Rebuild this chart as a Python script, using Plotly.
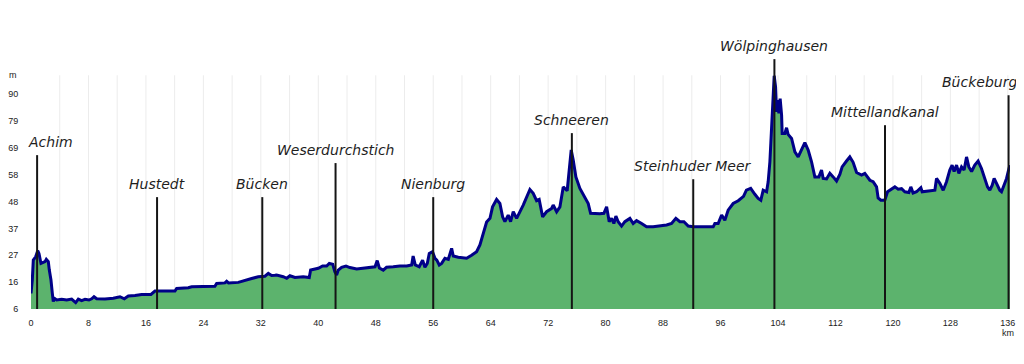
import plotly.graph_objects as go

# ---- elevation profile (km, m) ----
km = [0, 0.18, 0.32, 0.65, 0.93, 1.11, 1.39, 1.72, 1.95, 2.13, 2.41, 2.55, 2.78, 2.97, 3.1, 3.24, 3.57,
      4.27, 4.97, 5.66, 6.22, 6.59, 7.05, 7.52, 8.07, 8.45, 8.77, 9.14, 10.3, 11.46, 12.39, 12.99, 13.55,
      14.48, 15.4, 16.7, 17.26, 18.65, 20.04, 20.28, 21.9, 22.37, 25.6, 25.85, 27.0, 27.24, 27.5, 28.86,
      29.79, 30.72, 31.64, 32.57, 33.04, 33.5, 33.96, 34.2, 35.12, 35.6, 36.05, 36.75, 37.9, 38.74, 38.93,
      40.0, 40.6, 41.16, 41.53, 42.0, 42.3, 42.55, 42.78, 43.25, 43.85, 44.4, 45.34, 46.26, 47.19, 47.9,
      48.2, 48.5, 49.04, 49.5, 50.43, 51.36, 52.3, 53.0, 53.2, 53.5, 54.05, 54.52, 54.84, 55.17, 55.45,
      55.9, 56.24, 56.5, 56.84, 57.17, 57.63, 58.1, 58.56, 58.79, 59.48, 60.65, 61.34, 62.04, 62.5, 62.96,
      63.43, 63.9, 64.26, 64.82, 65.28, 65.66, 65.98, 66.44, 66.77, 67.14, 67.61, 68.53, 69.46, 69.92,
      70.39, 70.75, 71.23, 71.78, 72.48, 72.7, 73.18, 73.64, 74.1, 74.65, 74.93, 75.21, 75.49, 75.86,
      76.42, 76.97, 77.58, 77.91, 78.51, 79.2, 79.76, 80.14, 80.5, 80.83, 81.15, 81.43, 81.75, 82.22,
      82.68, 83.38, 83.84, 84.31, 85.01, 85.7, 86.62, 87.56, 88.49, 89.18, 89.78, 90.34, 90.9, 91.5,
      92.19, 93.58, 94.98, 95.21, 95.67, 96.15, 96.6, 97.06, 97.76, 98.46, 99.2, 99.6, 100.2, 100.78,
      101.24, 101.61, 101.94, 102.41, 102.63, 102.87, 103.1, 103.33, 103.47, 103.66, 103.8, 103.94,
      104.12, 104.3, 104.5, 104.58, 104.96, 105.19, 105.41, 105.89, 106.35, 106.81, 107.18, 107.74,
      108.2, 108.67, 109.13, 109.69, 110.06, 110.29, 110.76, 111.22, 111.68, 112.15, 112.61, 112.93,
      113.54, 114.0, 114.46, 114.94, 115.63, 116.09, 116.79, 117.24, 117.72, 117.94, 118.32, 118.87,
      119.25, 119.81, 120.27, 120.73, 121.2, 121.66, 122.22, 122.49, 122.81, 123.29, 123.89, 124.07,
      124.9, 125.84, 126.07, 126.53, 127.0, 127.46, 127.92, 128.24, 128.52, 128.86, 129.18, 129.55,
      129.91, 130.25, 130.57, 130.95, 131.4, 131.86, 132.33, 132.8, 133.17, 133.49, 133.81, 134.09,
      134.42, 134.88, 135.12, 135.48, 135.82, 136.04, 136.28]
elev = [12.1, 17.3, 25.1, 26.4, 28.8, 27.7, 23.8, 24.1, 24.5, 25.4, 24.5, 21.2, 17.3, 12.1, 8.9, 10.2, 9.5,
        9.8, 9.5, 9.9, 8.5, 9.9, 9.3, 9.8, 9.5, 10.0, 10.8, 10.0, 9.9, 10.2, 10.8, 10.0, 11.1,
        11.3, 11.7, 11.7, 13.0, 13.0, 13.0, 14.0, 14.3, 14.7, 14.9, 16.0, 16.2, 16.8, 16.2, 16.4,
        17.0, 17.9, 18.6, 18.8, 19.9, 19.1, 19.2, 19.3, 18.6, 18.0, 19.0, 18.3, 18.6, 18.3, 21.2,
        21.9, 22.8, 22.8, 23.8, 23.5, 20.6, 19.3, 21.2, 22.3, 22.8, 22.2, 21.6, 22.0, 22.2, 22.5,
        24.9, 22.0, 21.2, 22.3, 22.5, 22.8, 22.8, 23.2, 26.7, 23.2, 22.5, 25.1, 22.3, 23.8, 27.7,
        28.4, 25.8, 25.1, 23.2, 23.8, 25.8, 25.4, 29.7, 26.7, 26.2, 25.8, 27.0, 28.4, 31.0, 35.5,
        40.0, 41.4, 45.9, 48.8, 47.2, 42.0, 40.1, 42.7, 40.1, 44.0, 41.4, 46.6, 52.7, 51.2,
        48.3, 48.8, 42.0, 44.0, 45.3, 46.6, 44.0, 45.9, 53.7, 52.2, 60.3, 68.1, 64.2, 57.6,
        53.1, 50.5, 47.2, 43.4, 43.2, 43.2, 43.4, 45.9, 40.1, 41.4, 39.4, 42.3, 40.1, 38.4,
        40.1, 41.4, 39.4, 40.5, 39.4, 38.1, 38.1, 38.4, 38.8, 39.4, 41.4, 40.1, 40.1, 38.4,
        38.1, 38.1, 38.1, 39.4, 39.4, 42.7, 40.7, 44.6, 47.2, 48.3, 50.0, 52.4, 53.1, 50.8,
        49.2, 48.5, 52.4, 51.8, 55.7, 63.5, 75.2, 89.5, 97.1, 92.8, 83.0, 87.6,
        82.4, 88.2, 81.7, 74.6, 74.6, 76.8, 74.2, 72.6, 67.4, 65.4, 67.4, 71.0,
        68.1, 63.5, 57.6, 57.6, 60.3, 57.0, 56.8, 59.0, 57.6, 56.0, 58.6, 61.5,
        63.8, 65.4, 63.3, 59.3, 58.3, 59.0, 56.3, 55.7, 53.7, 49.4, 48.5, 48.5,
        51.8, 52.8, 53.7, 52.8, 53.0, 51.8, 51.5, 53.7, 51.3, 51.8, 53.4, 51.8,
        52.1, 52.4, 57.0, 55.1, 52.4, 55.7, 60.3, 62.2, 59.7, 62.2, 59.0, 61.5,
        60.3, 65.4, 61.5, 59.7, 62.2, 63.8, 60.9, 57.0, 53.7, 52.4, 54.3, 57.0,
        55.1, 52.4, 51.8, 54.3, 57.0, 59.6, 62.2]

# ---- waypoints ----
place_names = ["Achim", "Hustedt", "Bücken", "Weserdurchstich", "Nienburg", "Schneeren",
               "Steinhuder Meer", "Wölpinghausen", "Mittellandkanal", "Bückeburg"]
place_km = [0.85, 17.55, 32.2, 42.4, 56.0, 75.3, 92.2, 103.5, 118.9, 136.1]
place_top = [66.1, 49.7, 49.7, 63.0, 49.7, 74.7, 56.7, 103.6, 77.8, 89.5]

# ---- axis ticks ----
x_ticks = list(range(0, 137, 8))
y_tickvals = [6, 16.5, 27, 37.5, 48, 58.5, 69, 79.5, 90]
y_ticktext = ["6", "16", "27", "37", "48", "58", "69", "79", "90"]
grid_km = list(range(4, 137, 4))
grid_top = 97.3

Y_MIN, Y_MAX = 6, 106
X_MIN, X_MAX = 0, 136.3

fig = go.Figure()

fig.add_trace(go.Scatter(
    x=km, y=elev, mode="lines", fill="tozeroy",
    fillcolor="#5cb36d", line=dict(color="#000088", width=3),
    hoverinfo="skip", showlegend=False))

# waypoint marker lines
mx, my = [], []
for k, t in zip(place_km, place_top):
    mx += [k, k, None]
    my += [Y_MIN, t, None]
fig.add_trace(go.Scatter(x=mx, y=my, mode="lines",
                         line=dict(color="#151515", width=2),
                         hoverinfo="skip", showlegend=False))

shapes = []
for g in grid_km:
    shapes.append(dict(type="line", xref="x", yref="y", x0=g, x1=g, y0=Y_MIN, y1=grid_top,
                       line=dict(color="#ececec", width=1), layer="below"))

label_shift = {"Achim": 13, "Bückeburg": -29}
annotations = []
for name, k, t in zip(place_names, place_km, place_top):
    annotations.append(dict(
        x=k, y=t, xref="x", yref="y", text=name, showarrow=False,
        xanchor="center", yanchor="bottom", xshift=label_shift.get(name, 0), yshift=3,
        font=dict(family="DejaVu Sans", size=14, color="#1e1e1e", style="italic")))

annotations.append(dict(x=-0.0184, y=0.913, xref="paper", yref="paper", text="m",
                        showarrow=False, xanchor="center", yanchor="middle",
                        font=dict(family="Liberation Sans", size=9, color="#222")))
annotations.append(dict(x=0.998, y=-0.094, xref="paper", yref="paper", text="km",
                        showarrow=False, xanchor="center", yanchor="middle",
                        font=dict(family="Liberation Sans", size=9, color="#222")))

# page body has an 8px default margin, so the figure is sized to fit the window
fig.update_layout(
    width=1016, height=356,
    margin=dict(l=23, r=14, t=45, b=55, autoexpand=False),
    paper_bgcolor="white", plot_bgcolor="white",
    shapes=shapes, annotations=annotations,
    xaxis=dict(range=[X_MIN, X_MAX], tickvals=x_ticks, showgrid=False, zeroline=False,
               showline=False, ticks="outside", ticklen=5, tickcolor="rgba(0,0,0,0)",
               automargin=False,
               tickfont=dict(family="Liberation Sans", size=9, color="#222")),
    yaxis=dict(range=[Y_MIN, Y_MAX], tickvals=y_tickvals, ticktext=y_ticktext,
               showgrid=False, zeroline=False, showline=False,
               ticks="outside", ticklen=10, tickcolor="rgba(0,0,0,0)",
               automargin=False,
               tickfont=dict(family="Liberation Sans", size=9, color="#222")),
)

fig.write_html("out.html")
